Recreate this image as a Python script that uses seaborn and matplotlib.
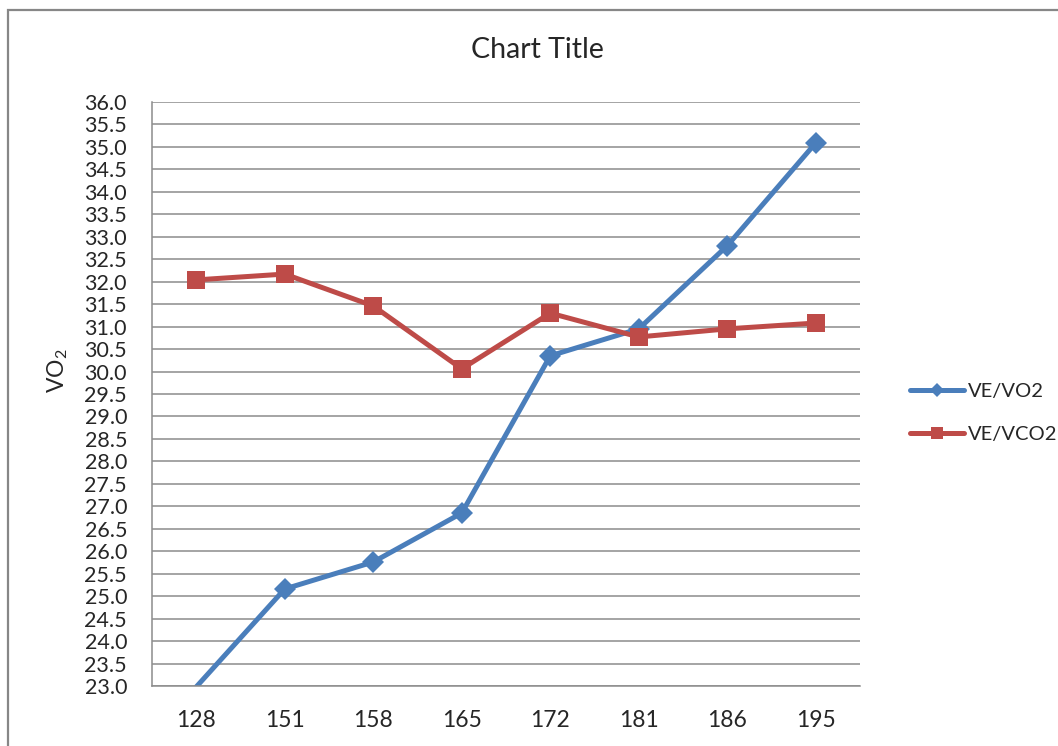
import numpy as np
import pandas as pd
import matplotlib
matplotlib.use("Agg")
import matplotlib.pyplot as plt
from matplotlib.lines import Line2D
from matplotlib.patches import Rectangle
import seaborn as sns

# Heart-rate categories and ventilatory equivalents
heart_rate = ["128", "151", "158", "165", "172", "181", "186", "195"]
ve_vo2 = [22.98, 25.16, 25.76, 26.85, 30.35, 30.95, 32.80, 35.09]
ve_vco2 = [32.04, 32.17, 31.46, 30.06, 31.30, 30.77, 30.95, 31.08]
y_ticks = [round(23.0 + 0.5 * i, 1) for i in range(27)]

sns.set_theme(style="white")
plt.rcParams["font.family"] = ["Lato", "DejaVu Sans"]
plt.rcParams["mathtext.fontset"] = "custom"
plt.rcParams["mathtext.rm"] = "Lato"

blue = "#4A7EBB"
red = "#BE4B48"
grid_c = "#8C8C8C"

fig = plt.figure(figsize=(10.58, 7.46), dpi=100)
fig.patch.set_facecolor("white")
# chart frame (extends past the right and bottom edges)
fig.patches.append(Rectangle((8 / 1058, -0.2), 1.2, 0.2 + 1 - 9.5 / 746,
                             transform=fig.transFigure, fill=False,
                             edgecolor="#878787", linewidth=1.6))

ax = fig.add_axes([152 / 1058, 60 / 746, 708 / 1058, 584 / 746])

pos = np.arange(len(heart_rate))
df = pd.DataFrame({"pos": pos, "VE/VO2": ve_vo2, "VE/VCO2": ve_vco2})
ymin, ymax = y_ticks[0], y_ticks[-1]

series = [("VE/VO2", blue, "D", 11), ("VE/VCO2", red, "s", 12.5)]
for name, color, marker, ms in series:
    sns.lineplot(data=df, x="pos", y=name, ax=ax, color=color, linewidth=3.6,
                 marker=marker, markersize=ms, markeredgewidth=0,
                 label=name, legend=False)
    # points below the axis minimum get no marker
    line = ax.lines[-1]
    line.set_markevery([i for i, v in enumerate(df[name]) if v >= ymin])

ax.set_xlim(-0.5, len(heart_rate) - 0.5)
ax.set_ylim(ymin, ymax)
ax.set_yticks(y_ticks)
ax.set_yticklabels([f"{t:.1f}" for t in y_ticks], fontsize=15.5)
ax.set_xticks(pos)
ax.set_xticklabels(heart_rate, fontsize=16.5)
ax.tick_params(axis="x", length=0, pad=17)
ax.tick_params(axis="y", length=0, pad=18)
ax.yaxis.grid(True, color=grid_c, linewidth=1.1)
ax.xaxis.grid(False)
for side in ["top", "right"]:
    ax.spines[side].set_visible(False)
for side in ["left", "bottom"]:
    ax.spines[side].set_color(grid_c)
    ax.spines[side].set_linewidth(1.1)
ax.set_xlabel("")
ax.set_ylabel(r"VO$_\mathregular{2}$", fontsize=16.5)
ax.yaxis.set_label_coords(-0.116, 0.54)

fig.text(537 / 1058, 1 - 50 / 746, "Chart Title", ha="center", va="center", fontsize=20.5)

handles = [Line2D([], [], color=blue, linewidth=3.6, marker="D", markersize=7, markeredgewidth=0),
           Line2D([], [], color=red, linewidth=3.6, marker="s", markersize=9, markeredgewidth=0)]
fig.legend(handles, ["VE/VO2", "VE/VCO2"], loc="center left",
           bbox_to_anchor=(892 / 1058, 1 - 413 / 746), frameon=False,
           fontsize=14.5, handlelength=2.7, handletextpad=0.15, labelspacing=1.25)

fig.savefig("out.png", dpi=100)
